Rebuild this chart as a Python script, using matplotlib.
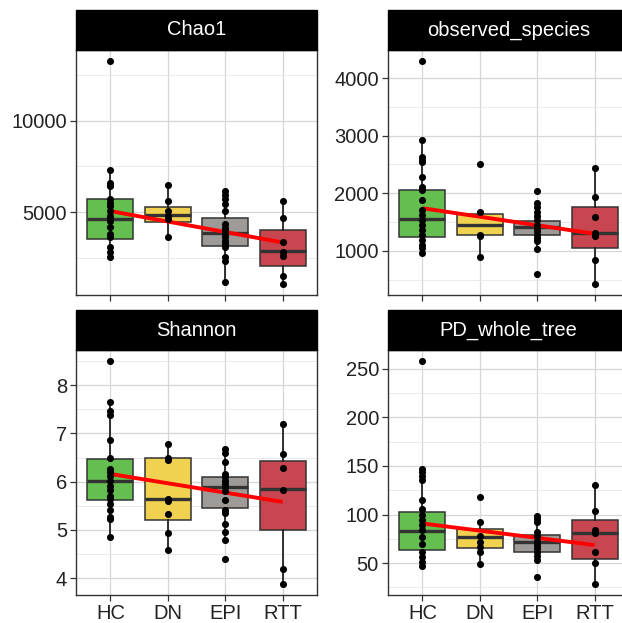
import matplotlib
matplotlib.use("Agg")
import matplotlib.pyplot as plt
from matplotlib.patches import Rectangle
from matplotlib.ticker import FixedLocator

plt.rcParams['font.family'] = ['Liberation Sans', 'DejaVu Sans']

groups = ["HC", "DN", "EPI", "RTT"]
colors = ["#64BE50", "#F0D250", "#9E9A98", "#C84650"]

# ---- Chao1 ----
chao1_HC = [13261, 7320, 6600, 6505, 6413, 5690, 5510, 5326, 5054, 4783, 4603, 4511, 4200, 3788, 3609, 3065, 2793, 2522]
chao1_DN = [6505, 5598, 5054, 4783, 4603, 3609]
chao1_EPI = [6141, 5960, 5690, 5418, 5054, 4331, 4152, 3967, 3788, 3609, 3424, 3245, 3065, 2522, 2337, 1163]
chao1_RTT = [5598, 4658, 3337, 2793, 2609, 1522, 1071]
chao1_q1 = [3516, 4478, 3119, 2033]
chao1_med = [4641, 4837, 3880, 2880]
chao1_q3 = [5690, 5272, 4694, 4005]
chao1_wlo = [2522, 3609, 1163, 1071]
chao1_whi = [7320, 6505, 6141, 5598]
chao1_trend = [5054, 3337]

# ---- observed_species ----
obs_HC = [4294, 2922, 2633, 2576, 2547, 2287, 2114, 2057, 1884, 1711, 1620, 1538, 1452, 1365, 1279, 1192, 1106, 1047, 962]
obs_DN = [2507, 1682, 1279, 1249, 893]
obs_EPI = [2040, 1827, 1760, 1682, 1600, 1540, 1452, 1400, 1340, 1279, 1220, 1163, 1036, 604]
obs_RTT = [2432, 1941, 1585, 1308, 1249, 846, 426]
obs_q1 = [1232, 1266, 1266, 1048]
obs_med = [1550, 1452, 1412, 1308]
obs_q3 = [2057, 1642, 1526, 1758]
obs_wlo = [962, 893, 1036, 426]
obs_whi = [2922, 1682, 1827, 2432]
obs_trend = [1740, 1296]

# ---- Shannon ----
sh_HC = [8.50, 7.66, 7.46, 7.39, 6.86, 6.50, 6.26, 6.20, 6.12, 6.02, 5.92, 5.82, 5.71, 5.64, 5.54, 5.41, 5.27, 5.22, 4.86]
sh_DN = [6.79, 6.49, 6.45, 5.64, 5.60, 5.32, 4.93, 4.58]
sh_EPI = [6.67, 6.60, 6.40, 6.16, 6.09, 6.02, 5.95, 5.88, 5.80, 5.61, 5.41, 5.35, 5.13, 4.96, 4.79, 4.39]
sh_RTT = [7.20, 6.58, 6.28, 5.83, 4.19, 3.88]
sh_q1 = [5.62, 5.21, 5.45, 4.99]
sh_med = [6.01, 5.63, 5.88, 5.85]
sh_q3 = [6.48, 6.49, 6.09, 6.43]
sh_wlo = [4.86, 4.58, 4.79, 3.88]
sh_whi = [7.66, 6.79, 6.67, 7.20]
sh_trend = [6.16, 5.58]

# ---- PD_whole_tree ----
pd_HC = [257.7, 147, 144, 140, 135, 114.6, 106, 100, 94, 89, 84, 77, 70, 61.8, 56.6, 51.5, 47.4]
pd_DN = [118, 92.4, 78, 72, 67, 61.8, 49.2]
pd_EPI = [98.3, 94.9, 92, 82.2, 78, 73, 69, 66, 61.8, 57, 53.3, 36.2]
pd_RTT = [130, 103.7, 84, 80.6, 61.8, 49.9, 28.7]
pd_q1 = [63.5, 65.9, 61.8, 54.3]
pd_med = [82.9, 76.5, 72, 80.6]
pd_q3 = [102.7, 84.7, 78.8, 94.2]
pd_wlo = [47.4, 49.2, 53.3, 28.7]
pd_whi = [147, 92.4, 98.3, 130]
pd_trend = [90.8, 68.6]

panels = [
    ("Chao1", [chao1_HC, chao1_DN, chao1_EPI, chao1_RTT], chao1_q1, chao1_med, chao1_q3, chao1_wlo, chao1_whi, chao1_trend,
     [5000, 10000], [2500, 7500, 12500], ["5000", "10000"]),
    ("observed_species", [obs_HC, obs_DN, obs_EPI, obs_RTT], obs_q1, obs_med, obs_q3, obs_wlo, obs_whi, obs_trend,
     [1000, 2000, 3000, 4000], [500, 1500, 2500, 3500], ["1000", "2000", "3000", "4000"]),
    ("Shannon", [sh_HC, sh_DN, sh_EPI, sh_RTT], sh_q1, sh_med, sh_q3, sh_wlo, sh_whi, sh_trend,
     [4, 5, 6, 7, 8], [4.5, 5.5, 6.5, 7.5, 8.5], ["4", "5", "6", "7", "8"]),
    ("PD_whole_tree", [pd_HC, pd_DN, pd_EPI, pd_RTT], pd_q1, pd_med, pd_q3, pd_wlo, pd_whi, pd_trend,
     [50, 100, 150, 200, 250], [25, 75, 125, 175, 225], ["50", "100", "150", "200", "250"]),
]

W, H = 622, 623
fig = plt.figure(figsize=(W / 100, H / 100), dpi=100)

pw, ph = 241, 245
lefts = [76, 388]
tops = [50, 350]
strip_h = 40
fs = 14.5

for i, (title, pts, q1, med, q3, wlo, whi, trend, majors, minors, labels) in enumerate(panels):
    r, c = divmod(i, 2)
    ax = fig.add_axes([lefts[c] / W, 1 - (tops[r] + ph) / H, pw / W, ph / H])
    xs = [1, 2, 3, 4]

    stats = []
    for k in range(4):
        stats.append(dict(q1=q1[k], med=med[k], q3=q3[k], whislo=wlo[k], whishi=whi[k], fliers=[]))
    bp = ax.bxp(stats, positions=xs, widths=0.8, patch_artist=True, showfliers=False, showcaps=False,
                manage_ticks=False,
                boxprops=dict(edgecolor='#333333', linewidth=1.1),
                whiskerprops=dict(color='#222222', linewidth=1.3),
                medianprops=dict(color='#333333', linewidth=2.4, solid_capstyle='butt'),
                zorder=2)
    for patch, col in zip(bp['boxes'], colors):
        patch.set_facecolor(col)

    ax.plot([xs[0], xs[-1]], trend, color='#FF0000', lw=2.8, solid_capstyle='butt', zorder=3)

    for k in range(4):
        ax.scatter([xs[k]] * len(pts[k]), pts[k], s=26, color='black', zorder=4, linewidths=0)

    allv = [v for p in pts for v in p]
    lo, hi = min(allv), max(allv)
    rng = hi - lo
    ax.set_ylim(lo - 0.05 * rng, hi + 0.05 * rng)
    ax.set_xlim(0.4, 4.6)

    ax.yaxis.set_major_locator(FixedLocator(majors))
    ax.yaxis.set_minor_locator(FixedLocator(minors))
    ax.set_yticklabels(labels)
    ax.set_xticks(xs)
    ax.set_xticklabels(groups if r == 1 else [])
    ax.grid(True, which='major', color='#D6D6D6', lw=0.9, zorder=0)
    ax.grid(True, which='minor', axis='y', color='#E6E6E6', lw=0.6, zorder=0)
    ax.set_axisbelow(True)

    for sp in ax.spines.values():
        sp.set_color('#333333')
        sp.set_linewidth(1.0)

    ax.tick_params(axis='both', which='major', length=4, width=0.9, color='#333333',
                   labelsize=fs, labelcolor='#222222', pad=2.5)
    ax.tick_params(axis='y', which='minor', length=0)

    # strip
    sh = strip_h / ph
    ax.add_patch(Rectangle((0, 1), 1, sh, transform=ax.transAxes, facecolor='black',
                           edgecolor='black', clip_on=False, zorder=5))
    ax.text(0.5, 1 + sh / 2, title, transform=ax.transAxes, ha='center', va='center',
            color='white', fontsize=fs, zorder=6)

fig.savefig("out.png", dpi=100)
